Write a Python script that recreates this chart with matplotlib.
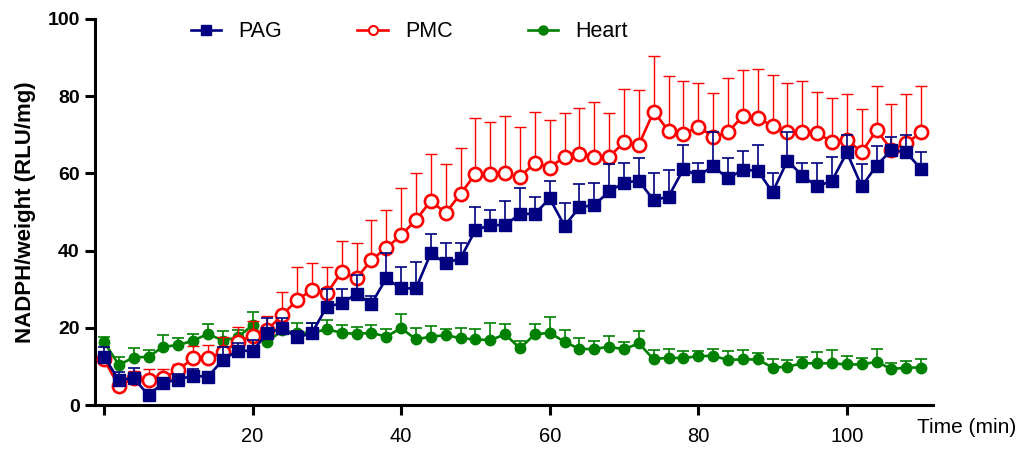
import matplotlib
matplotlib.use('Agg')
import matplotlib.pyplot as plt
from matplotlib.lines import Line2D
import numpy as np

plt.rcParams['font.family'] = ['Liberation Sans', 'DejaVu Sans']

# ---- data ----
time = [0, 2, 4, 6, 8, 10, 12, 14, 16, 18, 20, 22, 24, 26, 28, 30, 32, 34, 36, 38,
        40, 42, 44, 46, 48, 50, 52, 54, 56, 58, 60, 62, 64, 66, 68, 70, 72, 74, 76, 78,
        80, 82, 84, 86, 88, 90, 92, 94, 96, 98, 100, 102, 104, 106, 108, 110]

pag = [12.5, 6.5, 6.9, 2.6, 5.8, 6.6, 7.6, 7.3, 11.7, 14.1, 14.0, 18.6, 19.9, 17.5,
       18.6, 25.5, 26.3, 28.8, 26.2, 32.8, 30.2, 30.2, 39.3, 36.7, 38.0, 45.3, 46.6,
       46.6, 49.5, 49.5, 53.5, 46.4, 51.2, 51.8, 55.3, 57.6, 58.1, 53.0, 54.0, 61.1,
       59.4, 61.8, 58.7, 60.9, 60.7, 55.1, 63.3, 59.4, 56.6, 58.1, 65.4, 56.6, 62.0,
       66.1, 65.4, 61.1]
pag_err = [2.4, 2.0, 2.6, 1.0, 1.0, 1.3, 1.7, 1.0, 3.2, 2.0, 2.9, 3.9, 2.6, 1.7, 2.6,
           4.5, 3.7, 4.9, 2.0, 6.5, 5.5, 6.9, 5.0, 5.2, 3.9, 5.9, 3.9, 6.3, 6.6, 4.5,
           4.6, 5.8, 6.0, 5.8, 7.1, 5.0, 6.0, 7.2, 6.8, 6.2, 3.4, 8.8, 5.4, 4.9, 6.6,
           4.9, 7.5, 3.2, 6.0, 6.1, 4.5, 5.8, 5.1, 3.4, 4.5, 4.4]

pmc = [11.8, 4.9, 6.9, 6.5, 6.9, 9.1, 12.1, 12.1, 13.6, 16.4, 17.9, 19.5, 23.3, 27.2,
       29.8, 28.9, 34.5, 32.8, 37.6, 40.6, 44.0, 47.9, 52.9, 49.7, 54.7, 59.8, 59.8,
       60.0, 59.0, 62.8, 61.5, 64.3, 65.0, 64.3, 64.3, 68.0, 67.4, 76.0, 71.0, 70.2,
       72.1, 69.5, 70.6, 74.9, 74.3, 72.3, 70.6, 70.6, 70.4, 68.2, 68.7, 65.5, 71.2,
       66.1, 67.8, 70.6]
pmc_err = [2.0, 1.0, 2.0, 2.7, 2.3, 1.4, 3.2, 3.4, 4.0, 3.7, 3.9, 3.5, 6.0, 8.5, 6.9,
           6.9, 8.0, 9.2, 10.2, 10.0, 12.3, 12.1, 12.0, 12.7, 11.8, 14.5, 13.4, 14.9,
           13.1, 13.0, 12.2, 11.3, 12.0, 14.3, 11.3, 13.9, 14.2, 14.5, 14.2, 13.6,
           11.3, 11.3, 14.1, 11.8, 12.8, 13.1, 12.8, 13.2, 10.6, 11.2, 11.9, 11.1,
           11.3, 11.9, 12.8, 12.1]

heart = [16.4, 10.4, 12.3, 12.5, 15.1, 15.5, 16.7, 18.4, 16.7, 17.5, 20.7, 16.4, 19.3,
         18.7, 18.7, 19.6, 18.7, 18.4, 18.7, 17.7, 19.9, 17.0, 17.7, 18.1, 17.3, 17.0,
         16.8, 18.3, 14.7, 18.3, 18.7, 16.4, 14.5, 14.5, 15.1, 14.4, 16.0, 11.8, 12.3,
         12.1, 12.7, 12.7, 11.7, 11.8, 11.8, 9.7, 9.9, 10.8, 10.8, 10.8, 10.5, 10.5,
         11.2, 9.3, 9.7, 9.7]
heart_err = [1.1, 2.1, 2.4, 1.7, 3.0, 1.8, 1.7, 2.6, 2.5, 2.0, 3.3, 1.0, 2.0, 2.5, 2.5,
             2.5, 2.0, 1.8, 2.0, 2.0, 3.7, 2.9, 2.8, 1.7, 2.6, 2.6, 4.4, 2.6, 1.9, 2.7,
             4.2, 3.0, 2.9, 2.2, 2.8, 1.8, 3.2, 2.4, 2.3, 2.0, 1.4, 1.7, 2.2, 2.4, 1.7,
             2.2, 1.7, 1.7, 2.9, 3.5, 2.2, 1.7, 3.3, 1.6, 1.8, 2.2]

xticks = [0, 20, 40, 60, 80, 100]
xtick_labels = ['', '20', '40', '60', '80', '100']
yticks = [0, 20, 40, 60, 80, 100]

NAVY = '#000080'
RED = '#ff0000'
GREEN = '#008000'

fig = plt.figure(figsize=(10.35, 4.5), dpi=100)
ax = fig.add_axes([0.0918, 0.1, 0.8097, 0.858])


def upper_errorbar(x, y, err, color, lw, z):
    err = np.asarray(err)
    cont = ax.errorbar(x, y, yerr=[np.zeros_like(err), err], fmt='none',
                       ecolor=color, elinewidth=lw, capsize=4.3, capthick=lw,
                       zorder=z)
    cont[1][0].set_visible(False)  # hide the lower caps


# Heart (bottom)
upper_errorbar(time, heart, heart_err, GREEN, 1.2, 2)
ax.plot(time, heart, '-o', color=GREEN, lw=1.9, markersize=7.5, zorder=3)

# PMC
upper_errorbar(time, pmc, pmc_err, RED, 1.0, 4)
ax.plot(time, pmc, '-o', color=RED, lw=1.9, markersize=9.5, markerfacecolor='white',
        markeredgewidth=1.9, zorder=5)

# PAG (top)
upper_errorbar(time, pag, pag_err, NAVY, 1.2, 6)
ax.plot(time, pag, '-s', color=NAVY, lw=1.9, markersize=8.5, zorder=7)

ax.set_xlim(-1.2, 111.6)
ax.set_ylim(0, 100)

ax.set_xticks(xticks)
ax.set_xticklabels(xtick_labels, fontsize=14.5)
ax.set_yticks(yticks)
ax.set_yticklabels([str(v) for v in yticks], fontsize=14, fontweight='bold')

for side in ['top', 'right']:
    ax.spines[side].set_visible(False)
for side in ['left', 'bottom']:
    ax.spines[side].set_linewidth(2.2)

ax.tick_params(axis='y', direction='out', length=7, width=2.2, pad=4)
ax.tick_params(axis='x', direction='out', length=7, width=2.2, pad=9)

ax.set_ylabel('NADPH/weight (RLU/mg)', fontsize=16, fontweight='bold', labelpad=8)
fig.text(0.886, 0.037, 'Time (min)', fontsize=15, ha='left', va='baseline')

handles = [
    Line2D([], [], color=NAVY, marker='s', lw=1.9, markersize=6.5),
    Line2D([], [], color=RED, marker='o', lw=1.9, markersize=6.5,
           markerfacecolor='white', markeredgewidth=1.5),
    Line2D([], [], color=GREEN, marker='o', lw=1.9, markersize=6.5),
]
fig.legend(handles, ['PAG', 'PMC', 'Heart'], loc='center', ncol=3,
           bbox_to_anchor=(0.3955, 0.929), frameon=False, fontsize=15.5,
           handlelength=1.4, handletextpad=0.8, columnspacing=3.5)

plt.savefig('out.png', dpi=100)
